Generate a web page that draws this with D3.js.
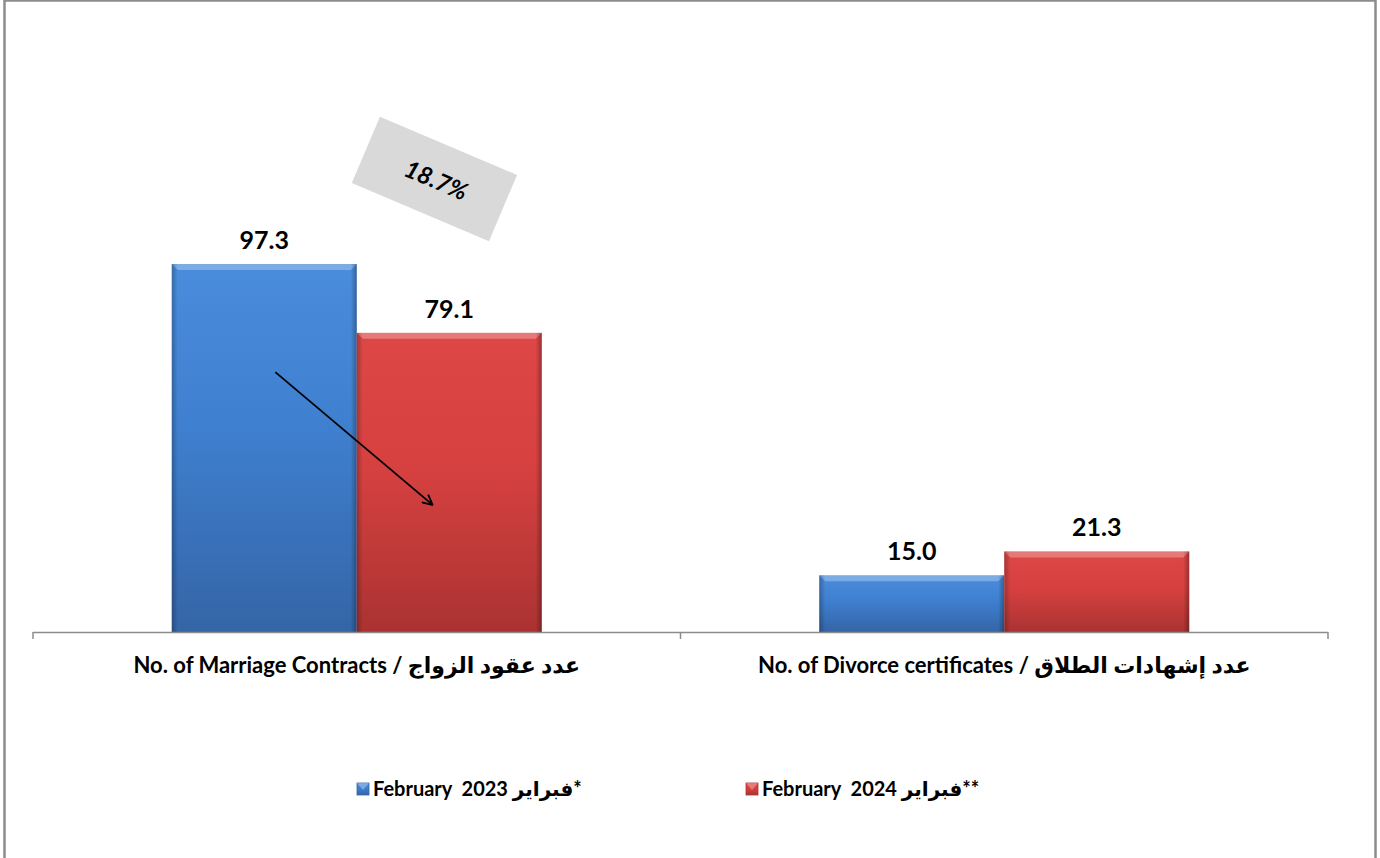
<!DOCTYPE html>
<html>
<head>
<meta charset="utf-8">
<script src="https://cdn.jsdelivr.net/npm/d3@7"></script>
<style>
  html, body { margin: 0; padding: 0; background: #ffffff; }
  svg { display: block; }
  .lbl { font-family: Lato, "DejaVu Sans", sans-serif; font-weight: 700; fill: #000; white-space: pre; }
</style>
</head>
<body>
<svg id="chart" width="1380" height="858"></svg>
<script>
// Categories and series values
const categories = [
  "No. of Marriage Contracts / عدد عقود الزواج",
  "No. of Divorce certificates / عدد إشهادات الطلاق"
];
const seriesNames = ["February  2023 فبراير*", "February  2024 فبراير**"];
const feb2023 = [97.3, 15.0];
const feb2024 = [79.1, 21.3];
const seriesValues = [feb2023, feb2024];

const colors = {
  blue: { top: "#4a8ddc", mid: "#3f7fcf", bot: "#3465a6" },
  red:  { top: "#dd4746", mid: "#d64140", bot: "#ab3232" }
};
const palette = [colors.blue, colors.red];

const svg = d3.select("#chart");
const defs = svg.append("defs");

// Chart frame
svg.append("rect")
  .attr("x", 4.5).attr("y", 0.5)
  .attr("width", 1371).attr("height", 900)
  .attr("fill", "#fff").attr("stroke", "#8c8c8c").attr("stroke-width", 2.5);

const baseY = 632;
const x = d3.scaleBand().domain(categories).range([33, 1328]).paddingInner(0).paddingOuter(0);
const xs = d3.scaleBand().domain(d3.range(seriesNames.length)).range([0, x.bandwidth()])
  .paddingInner(0).paddingOuter(0.75);
const y = d3.scaleLinear().domain([0, 120]).range([baseY, baseY - 120 * 3.782]);

// Gradients for the bevelled bars
palette.forEach((c, i) => {
  const g = defs.append("linearGradient").attr("id", "grad" + i)
    .attr("x1", 0).attr("y1", 0).attr("x2", 0).attr("y2", 1);
  g.append("stop").attr("offset", "0%").attr("stop-color", c.top);
  g.append("stop").attr("offset", "45%").attr("stop-color", c.mid);
  g.append("stop").attr("offset", "100%").attr("stop-color", c.bot);
});
const sideL = defs.append("linearGradient").attr("id", "sideL").attr("x1", 0).attr("x2", 1);
sideL.append("stop").attr("offset", "0%").attr("stop-color", "#000").attr("stop-opacity", 0.25);
sideL.append("stop").attr("offset", "100%").attr("stop-color", "#000").attr("stop-opacity", 0);
const sideR = defs.append("linearGradient").attr("id", "sideR").attr("x1", 0).attr("x2", 1);
sideR.append("stop").attr("offset", "0%").attr("stop-color", "#000").attr("stop-opacity", 0);
sideR.append("stop").attr("offset", "100%").attr("stop-color", "#000").attr("stop-opacity", 0.3);

// Bar data
const bars = [];
categories.forEach((cat, ci) => {
  seriesValues.forEach((vals, si) => {
    bars.push({ cat, si, v: vals[ci] });
  });
});

const bev = 6;
const bar = svg.append("g").selectAll("g.bar").data(bars).join("g").attr("class", "bar")
  .attr("transform", d => `translate(${x(d.cat) + xs(d.si)},${y(d.v)})`);

bar.append("rect")
  .attr("width", xs.bandwidth())
  .attr("height", d => baseY - y(d.v))
  .attr("fill", d => `url(#grad${d.si})`);
// top bevel highlight
bar.append("path")
  .attr("d", () => {
    const w = xs.bandwidth();
    return `M0,0 L${w},0 L${w - bev},${bev} L${bev},${bev} Z`;
  })
  .attr("fill", "#fff").attr("fill-opacity", 0.28);
// left and right shaded edges
bar.append("rect")
  .attr("width", bev).attr("height", d => baseY - y(d.v))
  .attr("fill", "url(#sideL)");
bar.append("rect")
  .attr("x", xs.bandwidth() - bev)
  .attr("width", bev).attr("height", d => baseY - y(d.v))
  .attr("fill", "url(#sideR)");

// Value labels
svg.append("g").selectAll("text").data(bars).join("text")
  .attr("class", "lbl")
  .attr("x", d => x(d.cat) + xs(d.si) + xs.bandwidth() / 2)
  .attr("y", d => y(d.v) - 15)
  .attr("text-anchor", "middle")
  .attr("font-size", 25)
  .text(d => d.v.toFixed(1));

// Category axis
const axis = d3.axisBottom(x).tickSize(0).tickPadding(0);
const gAxis = svg.append("g").attr("transform", `translate(0,${baseY})`).call(axis);
gAxis.select(".domain").remove();
gAxis.selectAll("text")
  .attr("class", "lbl")
  .attr("font-size", 22)
  .attr("dy", "0")
  .attr("y", 41)
  .attr("direction", "ltr");
svg.append("line")
  .attr("x1", x.range()[0]).attr("x2", x.range()[1])
  .attr("y1", baseY + 0.5).attr("y2", baseY + 0.5)
  .attr("stroke", "#8c8c8c").attr("stroke-width", 1.5);
const boundaries = categories.map(c => x(c)).concat([x.range()[1]]);
svg.append("g").selectAll("line").data(boundaries).join("line")
  .attr("x1", d => d).attr("x2", d => d)
  .attr("y1", baseY).attr("y2", baseY + 7)
  .attr("stroke", "#8c8c8c").attr("stroke-width", 1.5);

// Change annotation: arrow from 2023 bar into 2024 bar
const cat0 = categories[0];
const arrowFrom = { si: 0, frac: 0.56, v: 68.7 };
const arrowTo = { si: 1, frac: 0.41, v: 33.6 };
defs.append("marker").attr("id", "arrowHead")
  .attr("viewBox", "0 0 12 12").attr("refX", 11).attr("refY", 6)
  .attr("markerWidth", 12).attr("markerHeight", 12)
  .attr("markerUnits", "userSpaceOnUse").attr("orient", "auto")
  .append("path").attr("d", "M1,1 L11,6 L1,11")
  .attr("fill", "none").attr("stroke", "#000").attr("stroke-width", 1.8);
svg.append("line")
  .attr("x1", x(cat0) + xs(arrowFrom.si) + arrowFrom.frac * xs.bandwidth())
  .attr("y1", y(arrowFrom.v))
  .attr("x2", x(cat0) + xs(arrowTo.si) + arrowTo.frac * xs.bandwidth())
  .attr("y2", y(arrowTo.v))
  .attr("stroke", "#000").attr("stroke-width", 1.8)
  .attr("marker-end", "url(#arrowHead)");

// Percentage change box
const pct = ((feb2023[0] - feb2024[0]) / feb2023[0] * 100).toFixed(1) + "%";
const boxCx = x(cat0) + x.bandwidth() / 2 + 0.42 * xs.bandwidth();
const boxCy = y(119.8);
const box = svg.append("g").attr("transform", `translate(${boxCx},${boxCy}) rotate(23)`);
box.append("rect").attr("x", -74.5).attr("y", -36).attr("width", 149).attr("height", 72)
  .attr("fill", "#d9d9d9");
box.append("text").attr("class", "lbl")
  .attr("text-anchor", "middle").attr("y", 9).attr("x", 2)
  .attr("font-size", 24).attr("font-style", "italic")
  .text(pct);

// Legend
const legendX = [357, 746];
const legendY = 789;
const leg = svg.append("g").selectAll("g").data(seriesNames).join("g")
  .attr("transform", (d, i) => `translate(${legendX[i]},${legendY})`);
leg.append("rect").attr("x", 0).attr("y", -6).attr("width", 12).attr("height", 12)
  .attr("fill", (d, i) => `url(#grad${i})`).attr("stroke", (d, i) => palette[i].bot).attr("stroke-width", 0.8);
leg.append("path").attr("d", "M0,-6 L12,-6 L6,1 Z").attr("fill", "#fff").attr("fill-opacity", 0.3);
leg.append("text").attr("class", "lbl")
  .attr("x", 16).attr("y", 7)
  .attr("font-size", 20)
  .attr("direction", "ltr")
  .text(d => d);
</script>
</body>
</html>
